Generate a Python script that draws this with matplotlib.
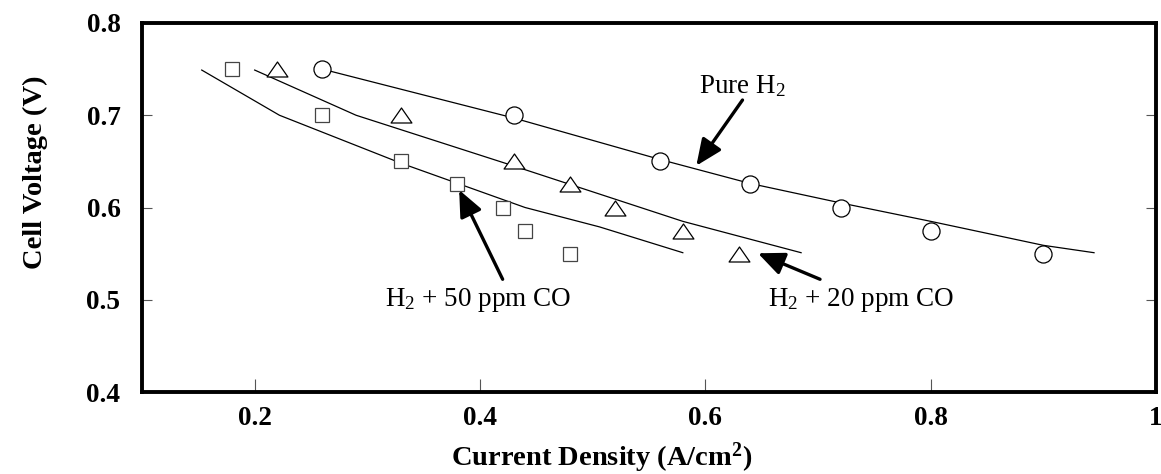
import matplotlib
matplotlib.use("Agg")
import matplotlib.pyplot as plt
from matplotlib.path import Path

# Measured cell voltage vs current density
pure_x = [0.26, 0.43, 0.56, 0.64, 0.72, 0.80, 0.90]
pure_y = [0.75, 0.70, 0.65, 0.625, 0.60, 0.575, 0.55]
co20_x = [0.22, 0.33, 0.43, 0.48, 0.52, 0.58, 0.63]
co20_y = [0.75, 0.70, 0.65, 0.625, 0.60, 0.575, 0.55]
co50_x = [0.18, 0.26, 0.33, 0.38, 0.42, 0.44, 0.48]
co50_y = [0.75, 0.70, 0.65, 0.625, 0.60, 0.575, 0.55]

# Model curves
pure_fit_x = [0.26, 0.43, 0.56, 0.64, 0.72, 0.80, 0.90, 0.945]
pure_fit_y = [0.750, 0.697, 0.652, 0.626, 0.605, 0.585, 0.559, 0.551]
co20_fit_x = [0.20, 0.29, 0.43, 0.52, 0.58, 0.685]
co20_fit_y = [0.749, 0.700, 0.645, 0.609, 0.585, 0.551]
co50_fit_x = [0.153, 0.222, 0.33, 0.44, 0.506, 0.58]
co50_fit_y = [0.749, 0.700, 0.648, 0.600, 0.579, 0.551]

x_ticks = [0.2, 0.4, 0.6, 0.8, 1.0]
x_tick_labels = ["0.2", "0.4", "0.6", "0.8", "1"]
y_ticks = [0.4, 0.5, 0.6, 0.7, 0.8]
y_tick_labels = ["0.4", "0.5", "0.6", "0.7", "0.8"]

plt.rcParams["font.family"] = ["Liberation Serif", "DejaVu Serif"]
plt.rcParams["mathtext.fontset"] = "custom"
plt.rcParams["mathtext.rm"] = "Liberation Serif"
plt.rcParams["mathtext.it"] = "Liberation Serif:italic"
plt.rcParams["mathtext.bf"] = "Liberation Serif:bold"

fig = plt.figure(figsize=(11.61, 4.74), dpi=100)
ax = fig.add_axes([142 / 1161, 82 / 474, 1014 / 1161, 369 / 474])

# wide open triangle marker
tri = Path([(-1.0, -0.72), (1.0, -0.72), (0.0, 0.72), (-1.0, -0.72)],
           [Path.MOVETO, Path.LINETO, Path.LINETO, Path.CLOSEPOLY])

line_kw = dict(color="black", lw=0.9, zorder=2)
ax.plot(pure_fit_x, pure_fit_y, **line_kw)
ax.plot(co20_fit_x, co20_fit_y, **line_kw)
ax.plot(co50_fit_x, co50_fit_y, **line_kw)

ax.plot(pure_x, pure_y, ls="none", marker="o", ms=12.3, mfc="white",
        mec="black", mew=0.9, zorder=3)
ax.plot(co20_x, co20_y, ls="none", marker=tri, ms=15, mfc="white",
        mec="black", mew=0.9, zorder=3)
ax.plot(co50_x, co50_y, ls="none", marker="s", ms=10, mfc="white",
        mec="#444444", mew=0.9, zorder=3)

ax.set_xlim(0.1, 1.0)
ax.set_ylim(0.4, 0.8)
ax.set_xticks(x_ticks)
ax.set_xticklabels(x_tick_labels)
ax.set_yticks(y_ticks)
ax.set_yticklabels(y_tick_labels)

for s in ax.spines.values():
    s.set_linewidth(2.8)
    s.set_color("black")

ax.tick_params(axis="x", direction="in", length=9.5, width=0.8, color="#555555",
               pad=10, labelsize=19.5, top=False)
ax.tick_params(axis="y", direction="in", length=7.5, width=0.8, color="#555555",
               pad=15.5, labelsize=19.5, right=True)
for lab in ax.get_xticklabels() + ax.get_yticklabels():
    lab.set_fontweight("bold")

ax.set_xlabel(r"Current Density (A/cm$^{\mathbf{2}}$)", fontsize=20.5,
              fontweight="bold")
ax.set_ylabel("Cell Voltage (V)", fontsize=20.5, fontweight="bold")
ax.xaxis.label.set_va("center")
ax.yaxis.label.set_va("center")
ax.xaxis.set_label_coords(0.4536, -0.179)
ax.yaxis.set_label_coords(-0.1055, 0.596)

arrow_kw = dict(arrowstyle="-|>,head_length=0.8,head_width=0.35", lw=2.4,
                color="black", shrinkA=0, shrinkB=0, mutation_scale=20)

ax.annotate("", xy=(0.592, 0.6453), xytext=(0.633, 0.7165), arrowprops=arrow_kw)
ax.text(0.633, 0.724, r"Pure H$_2$", fontsize=19.5, ha="center", va="baseline")

ax.annotate("", xy=(0.6467, 0.5504), xytext=(0.7018, 0.5222), arrowprops=arrow_kw)
ax.text(0.6556, 0.4932, r"H$_2$ + 20 ppm CO", fontsize=19.5, ha="left", va="baseline")

ax.annotate("", xy=(0.3815, 0.619), xytext=(0.4201, 0.5222), arrowprops=arrow_kw)
ax.text(0.3157, 0.4932, r"H$_2$ + 50 ppm CO", fontsize=19.5, ha="left", va="baseline")

fig.savefig("out.png", dpi=100)
